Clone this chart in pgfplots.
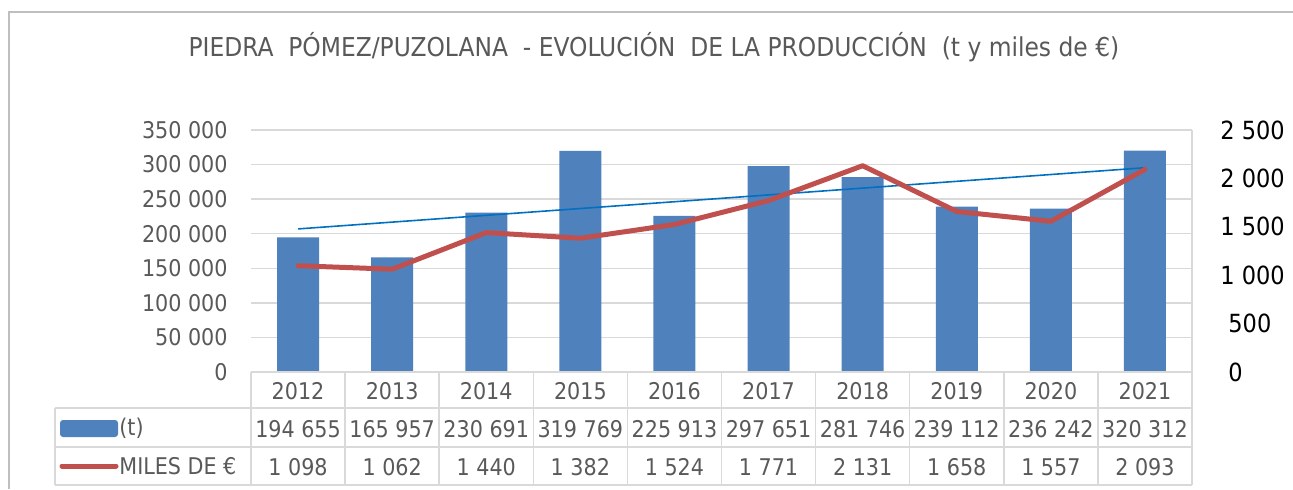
\documentclass[border=0pt]{standalone}
\usepackage{fontspec}
\setmainfont{DejaVu Sans Condensed}
\usepackage{pgfplots}
\pgfplotsset{compat=1.18}

\definecolor{barblue}{HTML}{4F81BD}
\definecolor{linered}{HTML}{C0504D}
\definecolor{trendblue}{HTML}{0070C0}
\definecolor{gridgray}{HTML}{D9D9D9}
\definecolor{txtgray}{HTML}{595959}
\definecolor{framegray}{HTML}{BFBFBF}

% pixel grid of the reference: 1 px = 0.5pt
\pgfplotsset{
  panel/.style={
    at={(125.5pt,58.5pt)}, anchor=south west,
    scale only axis, width=470.5pt, height=121pt,
    xmin=0.5, xmax=10.5,
    axis line style={draw=none}, tick style={draw=none},
    scaled y ticks=false,
  }
}

\begin{document}
\begin{tikzpicture}[x=0.5pt,y=0.5pt]
\path[use as bounding box] (0,0) rectangle (1293,489);
\draw[framegray, line width=1pt] (9,0) -- (9,477) -- (1293,477);

\node[text=txtgray, font=\fontsize{13}{15}\selectfont] at (654,442)
  {PIEDRA\ \ PÓMEZ/PUZOLANA\ \ -\ EVOLUCIÓN\ \ DE LA PRODUCCIÓN\ \ (t y miles de €)};

% bars (t) and trend line
\begin{axis}[panel,
    ymin=0, ymax=350000,
    ytick={0,50000,100000,150000,200000,250000,300000,350000},
    yticklabels={0,50 000,100 000,150 000,200 000,250 000,300 000,350 000},
    yticklabel style={anchor=east, inner sep=0pt, xshift=-11.5pt, text=txtgray,
      font=\fontsize{11.5}{14}\selectfont},
    ymajorgrids, grid style={gridgray, line width=0.75pt},
    xtick={1,...,10},
    xticklabels={
      {2012\\194 655\\1 098},
      {2013\\165 957\\1 062},
      {2014\\230 691\\1 440},
      {2015\\319 769\\1 382},
      {2016\\225 913\\1 524},
      {2017\\297 651\\1 771},
      {2018\\281 746\\2 131},
      {2019\\239 112\\1 658},
      {2020\\236 242\\1 557},
      {2021\\320 312\\2 093}},
    xticklabel style={anchor=north, align=center, inner sep=0pt, yshift=-4.8pt,
      text=txtgray, font=\fontsize{11.5}{19}\selectfont},
  ]
  \addplot[ybar, bar width=21pt, fill=barblue, draw=none] coordinates {
    (1,194655) (2,165957) (3,230691) (4,319769) (5,225913)
    (6,297651) (7,281746) (8,239112) (9,236242) (10,320312)
  };
  % linear trend of (t)
  \addplot[trendblue, line width=0.8pt] coordinates {(1,206950) (10,295460)};
\end{axis}

% miles de euros, right axis
\begin{axis}[panel,
    ymin=0, ymax=2500,
    axis y line*=right, axis x line=none,
    ytick={0,500,1000,1500,2000,2500},
    yticklabels={\hspace*{4pt}0,\hspace*{4pt}500,1 000,1 500,2 000,2 500},
    yticklabel style={anchor=west, inner sep=0pt, xshift=14pt, text=black,
      font=\fontsize{12.5}{15}\selectfont},
  ]
  \addplot[linered, line width=2.5pt, line join=round, line cap=round] coordinates {
    (1,1098) (2,1062) (3,1440) (4,1382) (5,1524)
    (6,1771) (7,2131) (8,1658) (9,1557) (10,2093)
  };
\end{axis}

% data table grid
\begin{scope}[gridgray, line width=0.75pt]
  \draw (1192,117) -- (1192,359);
  \draw (251,117) -- (1192,117);
  \foreach \yy in {81,42,4} \draw (55,\yy) -- (1192,\yy);
  \foreach \k in {0,...,10} \draw ({251+94.1*\k},117) -- ({251+94.1*\k},4);
  \draw (55,81) -- (55,4);
\end{scope}

% legend keys in the table
\fill[barblue, rounded corners=1.5pt] (60,52) rectangle (118,69);
\draw[linered, line width=2.5pt, line cap=round] (62,23) -- (116,23);
\node[anchor=west, inner sep=0pt, text=txtgray, font=\fontsize{11.5}{14}\selectfont] at (119,61) {(t)};
\node[anchor=west, inner sep=0pt, text=txtgray, font=\fontsize{11.5}{14}\selectfont] at (119,23) {MILES DE €};
\end{tikzpicture}
\end{document}
